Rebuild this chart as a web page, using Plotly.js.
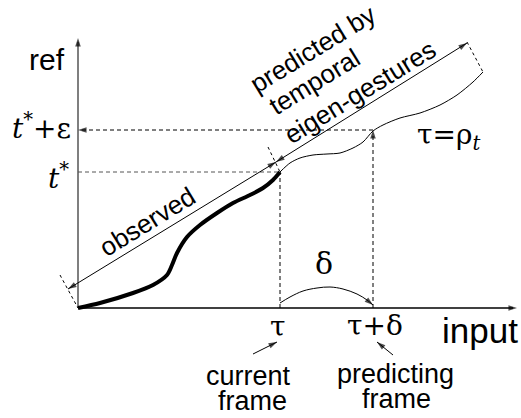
<!DOCTYPE html>
<html>
<head>
<meta charset="utf-8">
<script src="https://cdn.plot.ly/plotly-3.0.1.min.js"></script>
<style>
  html, body { margin: 0; padding: 0; background: #fff; }
  #chart { width: 521px; height: 418px; }
</style>
</head>
<body>
<div id="chart"></div>
<script>
// Key positions on the input / ref axes (diagram units)
const tau = 202;          // current frame
const tauDelta = 295;     // predicting frame
const tStar = 136;        // t*
const tStarEps = 178;     // t* + epsilon
const xAxisEnd = 439;
const yAxisEnd = 270;

// Observed part of the warping curve (thick)
const obsX = [0, 22, 55, 75, 89, 94, 99, 109, 122, 139, 155, 172, 185, 195, 202];
const obsY = [0, 5, 15, 23, 33, 43, 55, 71, 83, 95, 105, 113, 120, 128, 136];

// Predicted continuation (thin)
const predX = [202, 212, 222, 235, 249, 262, 275, 285, 295, 305, 322, 342, 362, 379, 395, 405];
const predY = [136, 145, 150, 153, 154, 155, 160, 166, 177, 183, 190, 195, 203, 213, 226, 236];

// Delta arc between the two frames
const arcX = [202, 212, 225, 239, 252, 265, 279, 289, 295];
const arcY = [5, 11, 17, 20, 21, 19, 14, 8, 3];

// Extent markers at the ends of the two spans (dotted ticks)
const obsStartTick = {x: [-18, 0], y: [33, 0]};
const predStartTick = {x: [190, 202], y: [161, 136]};
const predEndTick = {x: [389, 405], y: [266, 236]};

// Span arrows: [tailX, tailY, headX, headY]
const obsSpan = [-10, 19, 198, 146];
const predSpan = [198, 146, 389, 265];

// Small pointers from the frame captions: [tailX, tailY, headX, headY]
const currentPointer = [175, -46, 199, -34];
const predictingPointer = [315, -47, 299, -34];

const SANS = 'Liberation Sans, Arial, sans-serif';
const SERIF = 'DejaVu Serif, serif';

function line(x, y, opts) {
  return {
    type: 'scatter', mode: 'lines', x: x, y: y, hoverinfo: 'skip',
    line: Object.assign({color: '#000', width: 1}, opts)
  };
}

// Arrowhead marker sitting on (hx, hy), pointing away from (tx, ty)
function head(tx, ty, hx, hy, size) {
  return {
    type: 'scatter', mode: 'markers', x: [tx, hx], y: [ty, hy], hoverinfo: 'skip',
    marker: {symbol: 'arrow', size: [0, size || 9], angleref: 'previous',
             color: '#000', line: {width: 0}}
  };
}

function arrowLine(a, both, opts) {
  const out = [line([a[0], a[2]], [a[1], a[3]], opts || {}), head(a[0], a[1], a[2], a[3])];
  if (both) out.push(head(a[2], a[3], a[0], a[1]));
  return out;
}

const dash = '4px,3px';
const n = arcX.length;

const traces = [
  // axes
  line([0, 0], [0, yAxisEnd - 4], {color: '#7f7f7f', width: 2}),
  head(0, 0, 0, yAxisEnd),
  line([0, xAxisEnd - 4], [0, 0], {color: '#000', width: 1.5}),
  head(0, 0, xAxisEnd, 0),
  // guides
  line([0, tau], [tStar, tStar], {color: '#555', width: 1, dash: dash}),
  line([tau, tau], [0, tStar], {color: '#000', width: 1, dash: dash}),
  line([tauDelta, tauDelta], [0, tStarEps - 4], {color: '#000', width: 1, dash: dash}),
  head(tauDelta, 0, tauDelta, tStarEps),
  line([tauDelta, 4], [tStarEps, tStarEps], {color: '#000', width: 1, dash: dash}),
  head(tauDelta, tStarEps, 0, tStarEps),
  // extent ticks
  line(obsStartTick.x, obsStartTick.y, {dash: 'dot', width: 1}),
  line(predStartTick.x, predStartTick.y, {dash: 'dot', width: 1}),
  line(predEndTick.x, predEndTick.y, {dash: 'dot', width: 1}),
  // curves
  line(predX, predY, {width: 1, shape: 'spline', smoothing: 0.8}),
  line(obsX, obsY, {width: 4, shape: 'spline', smoothing: 0.8}),
  line(arcX, arcY, {width: 1, shape: 'spline', smoothing: 1}),
  head(arcX[n - 2], arcY[n - 2], arcX[n - 1], arcY[n - 1])
]
  .concat(arrowLine(obsSpan, true))
  .concat(arrowLine(predSpan, true))
  .concat(arrowLine(currentPointer, false))
  .concat(arrowLine(predictingPointer, false));

function label(text, x, y, size, family, extra) {
  return Object.assign({
    x: x, y: y, xref: 'x', yref: 'y', text: text, showarrow: false,
    font: {family: family, size: size, color: '#000'},
    xanchor: 'center', yanchor: 'middle'
  }, extra || {});
}

const ROT = -31.6;

const annotations = [
  label('ref', -31, 249, 30, SANS),
  label('<i>t</i><sup>*</sup>+ε', -5, 182, 28, SERIF, {xanchor: 'right'}),
  label('<i>t</i><sup>*</sup>', -7, 132, 28, SERIF, {xanchor: 'right'}),
  label('τ', 200, -18, 28, SERIF),
  label('τ+δ', 297, -17, 28, SERIF),
  label('input', 362, -22, 35, SANS, {xanchor: 'left'}),
  label('δ', 246, 45, 30, SERIF),
  label('τ=ρ<sub><i>t</i></sub>', 337, 172, 28, SERIF, {xanchor: 'left'}),
  label('current', 170, -68, 27, SANS),
  label('frame', 174, -93, 27, SANS),
  label('predicting', 317, -66, 27, SANS),
  label('frame', 318, -91, 27, SANS),
  label('observed', 69, 86, 26, SANS, {textangle: ROT}),
  label('predicted by', 235, 259, 26, SANS, {textangle: ROT}),
  label('temporal', 236, 226, 26, SANS, {textangle: ROT}),
  label('eigen-gestures', 282, 216, 26, SANS, {textangle: ROT})
];

const layout = {
  width: 521, height: 418,
  margin: {l: 0, r: 0, t: 0, b: 0},
  paper_bgcolor: '#fff', plot_bgcolor: '#fff',
  showlegend: false,
  xaxis: {range: [-78, 443], visible: false, fixedrange: true},
  yaxis: {range: [-110, 308], visible: false, fixedrange: true},
  annotations: annotations
};

Plotly.newPlot('chart', traces, layout, {staticPlot: true, displayModeBar: false});
</script>
</body>
</html>
